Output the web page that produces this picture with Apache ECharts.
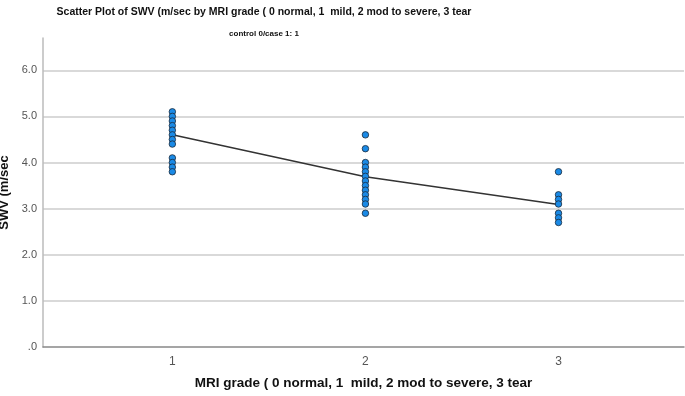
<!DOCTYPE html>
<html lang="en">
<head>
    <meta charset="UTF-8">
    <title>SWV by MRI grade</title>
    <script src="https://cdn.jsdelivr.net/npm/echarts@6/dist/echarts.min.js"></script>
    <style>
        html, body { margin: 0; padding: 0; background: #fff; }
        #chart { width: 685px; height: 396px; }
    </style>
</head>
<body>
    <div id="chart"></div>
    <script>
        // data
        var grades = [1, 2, 3];
        var grade1Swv = [5.1, 5.0, 4.9, 4.8, 4.7, 4.6, 4.5, 4.4, 4.1, 4.0, 3.9, 3.8];
        var grade2Swv = [4.6, 4.3, 4.0, 3.9, 3.8, 3.7, 3.6, 3.5, 3.4, 3.3, 3.2, 3.1, 2.9];
        var grade3Swv = [3.8, 3.3, 3.2, 3.1, 2.9, 2.8, 2.7];
        var fitLine = [4.6, 3.69, 3.09];
        var yTickLabels = ['.0', '1.0', '2.0', '3.0', '4.0', '5.0', '6.0'];

        var font = '"Liberation Sans", Arial, sans-serif';

        var points = [];
        [grade1Swv, grade2Swv, grade3Swv].forEach(function (vals, i) {
            vals.forEach(function (v) { points.push([grades[i], v]); });
        });

        var chart = echarts.init(document.getElementById('chart'));

        var option = {
            backgroundColor: '#fff',
            animation: false,
            title: [
                {
                    text: 'Scatter Plot of SWV (m/sec by MRI grade ( 0 normal, 1  mild, 2 mod to severe, 3 tear',
                    left: 259, top: 2, textAlign: 'center',
                    textStyle: { fontFamily: font, fontSize: 10.5, fontWeight: 'bold', color: '#111' }
                },
                {
                    text: 'control 0/case 1: 1',
                    left: 259, top: 25, textAlign: 'center',
                    textStyle: { fontFamily: font, fontSize: 8, fontWeight: 'bold', color: '#111' }
                }
            ],
            grid: { left: 43, right: 1, top: 38, bottom: 49, outerBoundsMode: 'none' },
            xAxis: {
                type: 'value',
                min: 0.33,
                max: 3.65,
                name: 'MRI grade ( 0 normal, 1  mild, 2 mod to severe, 3 tear',
                nameLocation: 'middle',
                nameGap: 29,
                nameTextStyle: { fontFamily: font, fontSize: 13.5, fontWeight: 'bold', color: '#111' },
                axisLine: { lineStyle: { color: '#888', width: 1.5 } },
                axisTick: { show: false },
                splitLine: { show: false },
                axisLabel: {
                    customValues: grades,
                    fontFamily: font,
                    fontSize: 12, color: '#555', margin: 9
                }
            },
            yAxis: {
                type: 'value',
                min: 0,
                max: 6.7,
                interval: 1,
                name: 'SWV (m/sec',
                nameLocation: 'middle',
                nameGap: 23,
                nameTextStyle: { fontFamily: font, fontSize: 13, fontWeight: 'bold', color: '#111' },
                axisLine: { show: true, lineStyle: { color: '#bbb', width: 1.5 } },
                axisTick: { show: false },
                splitLine: { show: true, showMinLine: false, showMaxLine: false, lineStyle: { color: '#ccc', width: 1.5 } },
                axisLabel: {
                    fontFamily: font,
                    fontSize: 11, color: '#555', margin: 6,
                    formatter: function (v) {
                        return Number.isInteger(v) ? yTickLabels[v] : '';
                    }
                }
            },
            series: [
                {
                    type: 'line',
                    data: grades.map(function (g, i) { return [g, fitLine[i]]; }),
                    symbol: 'none',
                    lineStyle: { color: '#333', width: 1.5 },
                    z: 2
                },
                {
                    type: 'scatter',
                    data: points,
                    symbolSize: 6.5,
                    itemStyle: { color: '#1a8ae6', borderColor: '#1b2a3a', borderWidth: 0.8, opacity: 1 },
                    z: 3
                }
            ]
        };

        chart.setOption(option);
    </script>
</body>
</html>
